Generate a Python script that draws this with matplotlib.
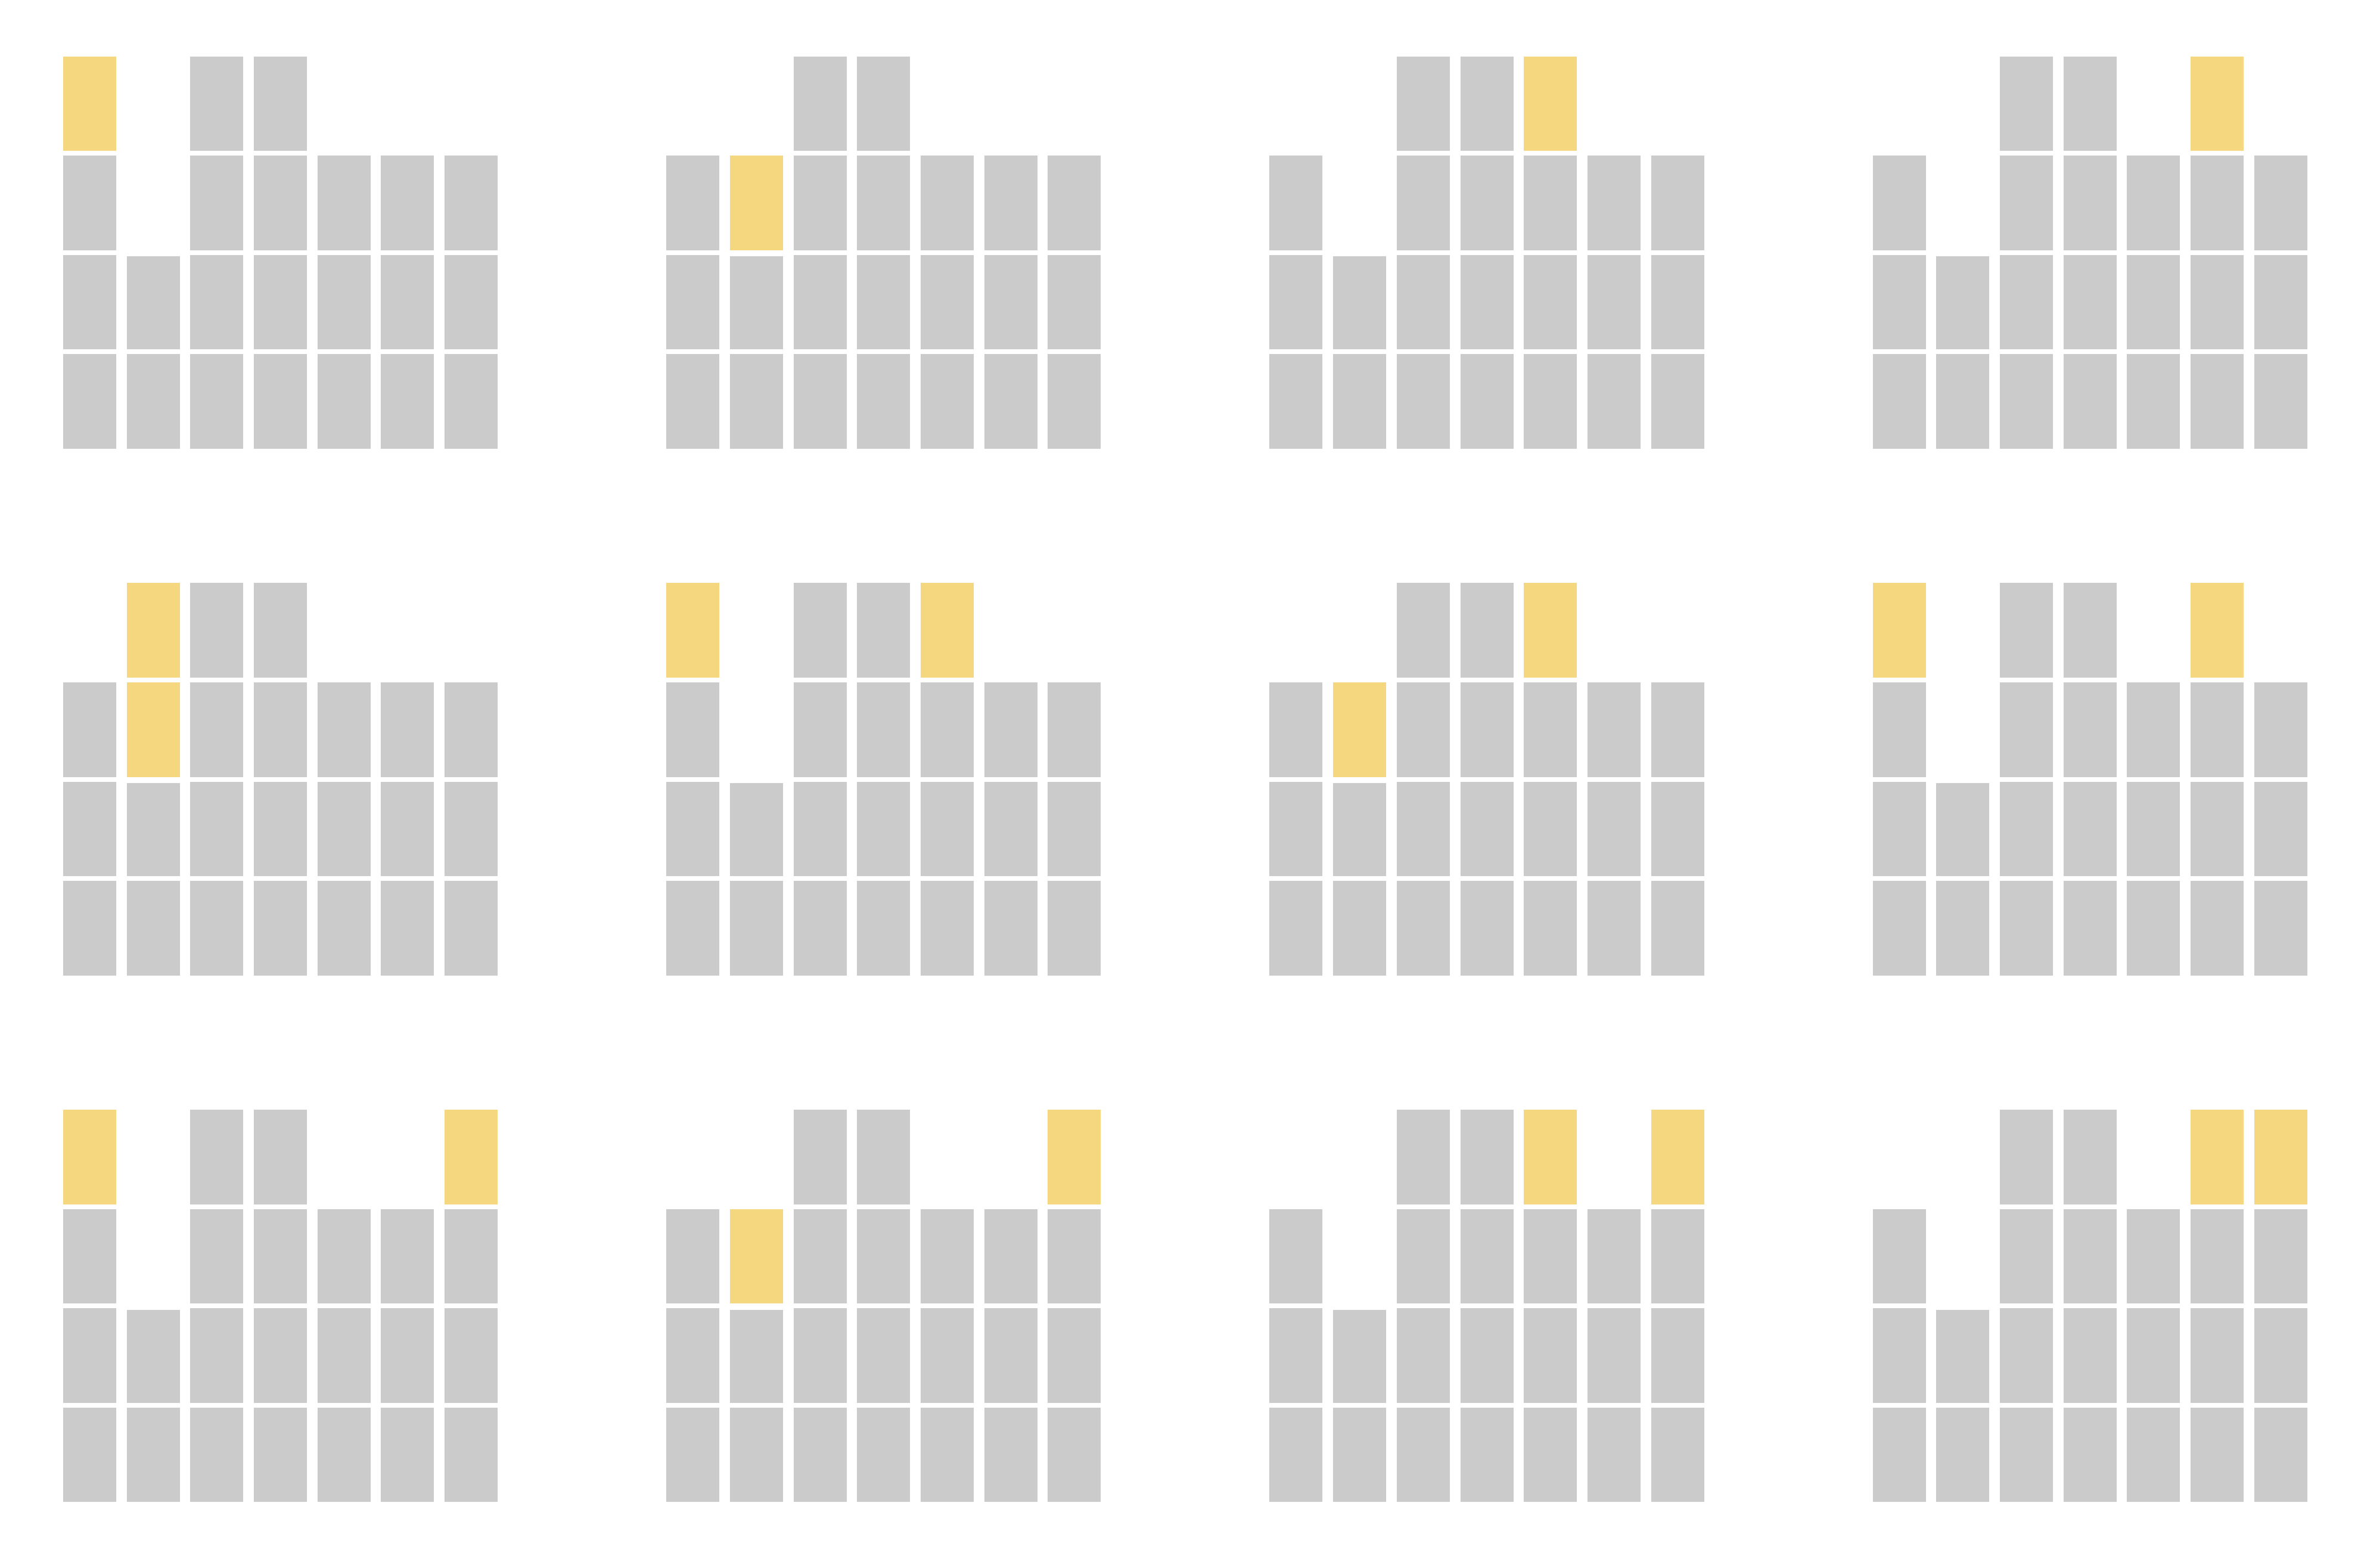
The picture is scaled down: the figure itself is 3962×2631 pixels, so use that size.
import matplotlib
matplotlib.use('Agg')
import matplotlib.pyplot as plt

# gray blocks per column, same in every panel
base = [3, 2, 4, 4, 3, 3, 3]
# second gray block of column 1 is a little shorter than the rest
base_heights = [
    [1, 1, 1],
    [1, 0.985],
    [1, 1, 1, 1],
    [1, 1, 1, 1],
    [1, 1, 1],
    [1, 1, 1],
    [1, 1, 1],
]
# yellow blocks added on top, one row per panel (read left to right, top to bottom)
added = [
    [1, 0, 0, 0, 0, 0, 0],
    [0, 1, 0, 0, 0, 0, 0],
    [0, 0, 0, 0, 1, 0, 0],
    [0, 0, 0, 0, 0, 1, 0],
    [0, 2, 0, 0, 0, 0, 0],
    [1, 0, 0, 0, 1, 0, 0],
    [0, 1, 0, 0, 1, 0, 0],
    [1, 0, 0, 0, 0, 1, 0],
    [1, 0, 0, 0, 0, 0, 1],
    [0, 1, 0, 0, 0, 0, 1],
    [0, 0, 0, 0, 1, 0, 1],
    [0, 0, 0, 0, 0, 1, 1],
]

GRAY = '#cbcbcb'
YELLOW = '#f4d77f'

fig = plt.figure(figsize=(3962 / 300, 2631 / 300), dpi=300)

left0 = 0.02452
step_x = 0.25548
ax_w = 0.18851
ax_h = 0.25314
bottoms = [0.71239, 0.37647, 0.04055]

for idx, extra in enumerate(added):
    r, c = divmod(idx, 4)
    ax = fig.add_axes([left0 + c * step_x, bottoms[r], ax_w, ax_h])
    for col in range(len(base)):
        for lvl in range(base[col] + extra[col]):
            if lvl < base[col]:
                hgt = base_heights[col][lvl]
                color = GRAY
            else:
                hgt = 1
                color = YELLOW
            ax.bar(col, hgt, bottom=lvl, width=0.909, color=color,
                   edgecolor='white', linewidth=1.9)
    ax.set_xlim(-0.5, 6.5)
    ax.set_ylim(0, 4)
    ax.axis('off')

fig.savefig('out.png', dpi=300, facecolor='white')
